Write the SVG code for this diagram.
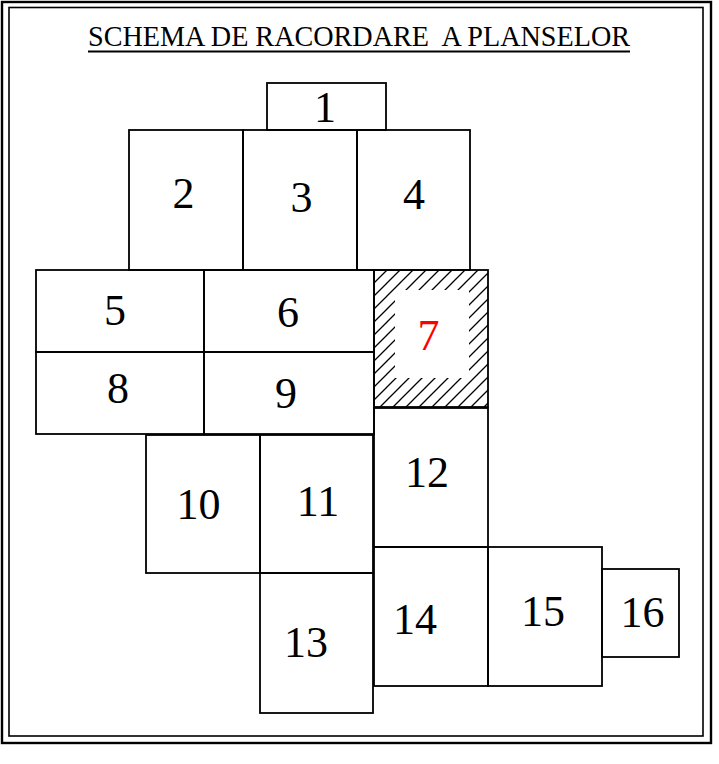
<svg xmlns="http://www.w3.org/2000/svg" width="719" height="764" viewBox="0 0 719 764">
<style>
.box{fill:none;stroke:#000;stroke-width:1.8}
.num{font-family:"Liberation Serif","Times New Roman",serif;font-size:44px;fill:#000;text-anchor:middle}
.title{font-family:"Liberation Serif","Times New Roman",serif;font-size:30px;fill:#000;white-space:pre}
</style>
<defs>
<pattern id="hatch" patternUnits="userSpaceOnUse" x="374" y="270" width="13" height="13">
<path d="M-1,1 L1,-1 M0,13 L13,0 M12,14 L14,12" stroke="#000" stroke-width="1.3"/>
</pattern>
</defs>
<rect width="719" height="764" fill="#fff"/>
<g id="frame">
<rect x="2" y="2" width="709" height="741" fill="none" stroke="#000" stroke-width="2.4"/>
<rect x="9" y="7.5" width="694" height="728.5" fill="none" stroke="#000" stroke-width="1.6"/>
</g>
<g id="title">
<text class="title" x="88" y="45.5" textLength="542" lengthAdjust="spacingAndGlyphs" xml:space="preserve">SCHEMA DE RACORDARE  A PLANSELOR</text>
<line x1="88" y1="51.5" x2="630" y2="51.5" stroke="#000" stroke-width="1.8"/>
</g>
<g id="n7">
<rect x="374" y="270" width="114" height="137" fill="url(#hatch)"/>
<rect x="395" y="290" width="74" height="88" fill="#fff"/>
<rect class="box" x="374" y="270" width="114" height="137"/>
<text class="num" x="428.5" y="350" style="fill:#f00">7</text>
</g>
<g id="n1"><rect class="box" x="267" y="83" width="119" height="47"/><text class="num" x="325" y="122">1</text></g>
<g id="n2"><rect class="box" x="129" y="130" width="114" height="140"/><text class="num" x="183.5" y="208">2</text></g>
<g id="n3"><rect class="box" x="243" y="130" width="114" height="140"/><text class="num" x="301.5" y="212">3</text></g>
<g id="n4"><rect class="box" x="357" y="130" width="113" height="140"/><text class="num" x="414" y="209">4</text></g>
<g id="n5"><rect class="box" x="36" y="270" width="168" height="82"/><text class="num" x="115" y="325">5</text></g>
<g id="n6"><rect class="box" x="204" y="270" width="170" height="82"/><text class="num" x="288" y="327">6</text></g>
<g id="n8"><rect class="box" x="36" y="352" width="168" height="82"/><text class="num" x="118" y="403">8</text></g>
<g id="n9"><rect class="box" x="204" y="352" width="170" height="82"/><text class="num" x="286" y="408">9</text></g>
<g id="n10"><rect class="box" x="146" y="435" width="114" height="138"/><text class="num" x="198.5" y="519">10</text></g>
<g id="n11"><rect class="box" x="260" y="435" width="113" height="138"/><text class="num" x="318" y="516">11</text></g>
<g id="n12"><rect class="box" x="374" y="408" width="114" height="139"/><text class="num" x="427" y="487">12</text></g>
<g id="n13"><rect class="box" x="260" y="573" width="113" height="140"/><text class="num" x="306" y="657">13</text></g>
<g id="n14"><rect class="box" x="374" y="547" width="114" height="139"/><text class="num" x="415" y="634">14</text></g>
<g id="n15"><rect class="box" x="488" y="547" width="114" height="139"/><text class="num" x="543" y="626">15</text></g>
<g id="n16"><rect class="box" x="602" y="569" width="77" height="88"/><text class="num" x="642.5" y="627">16</text></g>
</svg>
